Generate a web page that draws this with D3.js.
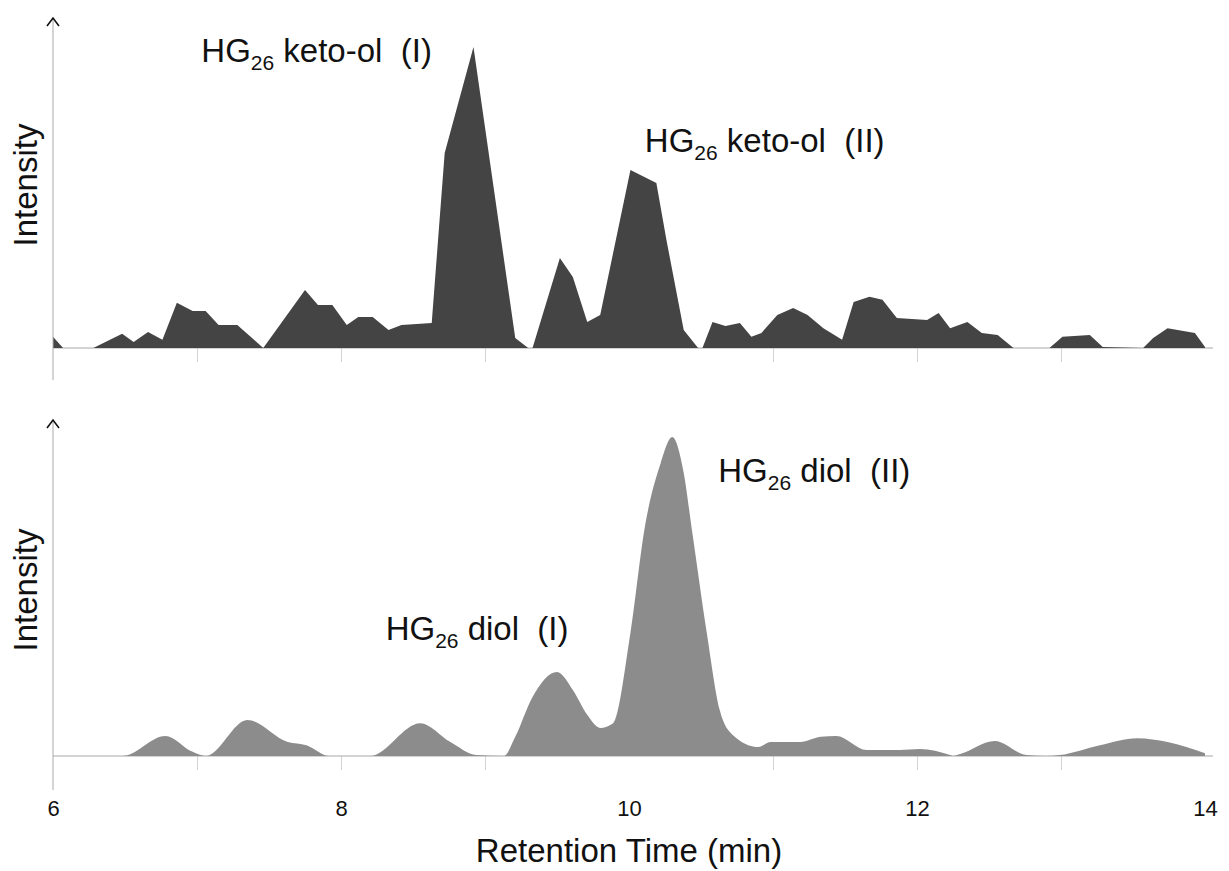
<!DOCTYPE html>
<html>
<head>
<meta charset="utf-8">
<script src="https://cdn.jsdelivr.net/npm/d3@7"></script>
<style>
  html, body { margin: 0; padding: 0; background: #fff; }
  svg { display: block; font-family: "Liberation Sans", Arial, Helvetica, sans-serif; }
</style>
</head>
<body>
<div id="chart"></div>
<script>
// Retention time (min) and relative intensity
const topTime = [6.00, 6.07, 6.28, 6.48, 6.56, 6.66, 6.76, 6.86, 6.97, 7.06, 7.15, 7.28, 7.46, 7.75, 7.84, 7.94, 8.04, 8.12, 8.22, 8.33, 8.42, 8.63, 8.72, 8.92, 9.21, 9.30, 9.33, 9.52, 9.61, 9.71, 9.80, 10.01, 10.19, 10.26, 10.38, 10.48, 10.51, 10.58, 10.67, 10.77, 10.85, 10.92, 11.03, 11.14, 11.24, 11.35, 11.48, 11.56, 11.67, 11.76, 11.86, 12.07, 12.15, 12.23, 12.35, 12.45, 12.56, 12.67, 12.92, 13.01, 13.20, 13.29, 13.57, 13.64, 13.74, 13.93, 14.00];
const topIntensity = [3.7, 0, 0, 4.7, 2.0, 5.3, 2.7, 15.0, 12.3, 12.3, 7.6, 7.6, 0, 19.3, 14.3, 14.3, 7.6, 10.3, 10.3, 6.0, 7.6, 8.3, 64.8, 100, 3.3, 0, 0, 29.9, 23.6, 8.6, 11.0, 59.1, 54.8, 35.9, 6.0, 0, 0, 8.6, 7.3, 8.3, 3.7, 5.0, 11.0, 13.3, 11.0, 6.6, 2.7, 15.3, 17.0, 16.0, 10.0, 9.3, 11.6, 6.6, 8.6, 5.0, 4.3, 0, 0, 3.7, 4.3, 0.3, 0, 3.3, 6.6, 5.0, 0.3];

const botTime = [6.00, 6.48, 6.78, 6.97, 7.06, 7.35, 7.63, 7.76, 7.92, 8.20, 8.55, 8.76, 8.94, 9.13, 9.21, 9.33, 9.50, 9.61, 9.71, 9.80, 9.89, 10.01, 10.11, 10.22, 10.30, 10.38, 10.44, 10.54, 10.63, 10.72, 10.90, 10.98, 11.19, 11.33, 11.44, 11.65, 11.88, 12.02, 12.23, 12.25, 12.30, 12.54, 12.76, 12.90, 12.99, 13.27, 13.53, 13.74, 14.00];
const botIntensity = [0, 0, 6.3, 1.3, 0, 11.3, 4.4, 3.4, 0, 0, 10.3, 4.4, 0.3, 0, 6.0, 18.5, 26.3, 20.7, 12.9, 8.8, 10.3, 38.6, 71.8, 91.8, 100, 88.7, 69.9, 38.6, 14.4, 6.6, 2.8, 4.4, 4.4, 6.0, 6.3, 1.9, 1.9, 2.2, 0.3, 0, 0.6, 4.7, 0.3, 0, 0.3, 3.4, 5.6, 4.4, 0.9];

const xTickLabels = [6, 8, 10, 12, 14];
const xMinorTicks = [7, 8, 9, 11, 12, 13];

const topLabels = [["keto-ol", "(I)"], ["keto-ol", "(II)"]];
const botLabels = [["diol", "(II)"], ["diol", "(I)"]];

const width = 1229, height = 871;

const svg = d3.select("#chart")
  .append("svg")
  .attr("width", width)
  .attr("height", height);

const x = d3.scaleLinear().domain([6, 14]).range([53, 1205]);
const yTop = d3.scaleLinear().domain([0, 100]).range([348, 47]);
const yBot = d3.scaleLinear().domain([0, 100]).range([756, 437]);

// draws one panel: axis line with arrow, baseline, faint ticks, filled trace
function panel(times, values, y, fill, curve, axisTop, axisBottom) {
  const data = times.map((t, i) => ({ t, v: values[i] }));
  const g = svg.append("g");

  g.append("g")
    .attr("transform", `translate(0,${y(0)})`)
    .call(d3.axisBottom(x).tickValues(xMinorTicks).tickSize(14).tickFormat(""))
    .call(a => a.select(".domain").remove())
    .call(a => a.selectAll("line").attr("stroke", "#d4d4d4"));

  g.append("line")
    .attr("x1", x(6)).attr("x2", x(14) + 8)
    .attr("y1", y(0)).attr("y2", y(0))
    .attr("stroke", "#a8a8a8");

  g.append("path")
    .datum(data)
    .attr("fill", fill)
    .attr("d", d3.area().curve(curve).x(d => x(d.t)).y0(y(0)).y1(d => y(d.v)));

  g.append("line")
    .attr("x1", x(6)).attr("x2", x(6))
    .attr("y1", axisTop).attr("y2", axisBottom)
    .attr("stroke", "#aaa");

  g.append("path")
    .attr("d", `M${x(6) - 6},${axisTop + 8}L${x(6)},${axisTop}L${x(6) + 6},${axisTop + 8}`)
    .attr("fill", "none")
    .attr("stroke", "#111")
    .attr("stroke-width", 1.6);

  g.append("text")
    .attr("transform", `translate(37,${(axisTop + y(0)) / 2 + 2}) rotate(-90)`)
    .attr("text-anchor", "middle")
    .attr("font-size", 33)
    .attr("fill", "#111")
    .text("Intensity");
  return g;
}

function label(g, tx, ty, parts) {
  const t = g.append("text")
    .attr("x", tx).attr("y", ty)
    .attr("font-size", 33)
    .attr("fill", "#111");
  t.append("tspan").text("HG");
  t.append("tspan").attr("font-size", 21).attr("dy", 8).text("26");
  t.append("tspan").attr("dy", -8).text(" " + parts[0] + "\u00a0 " + parts[1]);
}

const gTop = panel(topTime, topIntensity, yTop, "#444444", d3.curveLinear, 18, 380);
const gBot = panel(botTime, botIntensity, yBot, "#8c8c8c", d3.curveMonotoneX, 420, 790);

label(gTop, x(7.03), yTop(95), topLabels[0]);
label(gTop, x(10.11), yTop(65), topLabels[1]);
label(gBot, x(10.62), yBot(85.9), botLabels[0]);
label(gBot, x(8.31), yBot(36.4), botLabels[1]);

// x axis labels
svg.append("g")
  .attr("transform", `translate(0,800)`)
  .call(d3.axisBottom(x).tickValues(xTickLabels).tickSize(0).tickPadding(0).tickFormat(d3.format("d")))
  .call(a => a.select(".domain").remove())
  .call(a => a.selectAll("text")
    .attr("font-size", 22)
    .attr("font-family", "'Liberation Sans', Arial, sans-serif")
    .attr("fill", "#111")
    .attr("dy", "0.73em"));

svg.append("text")
  .attr("x", x(10))
  .attr("y", 862)
  .attr("text-anchor", "middle")
  .attr("font-size", 33)
  .attr("fill", "#111")
  .text("Retention Time (min)");
</script>
</body>
</html>
